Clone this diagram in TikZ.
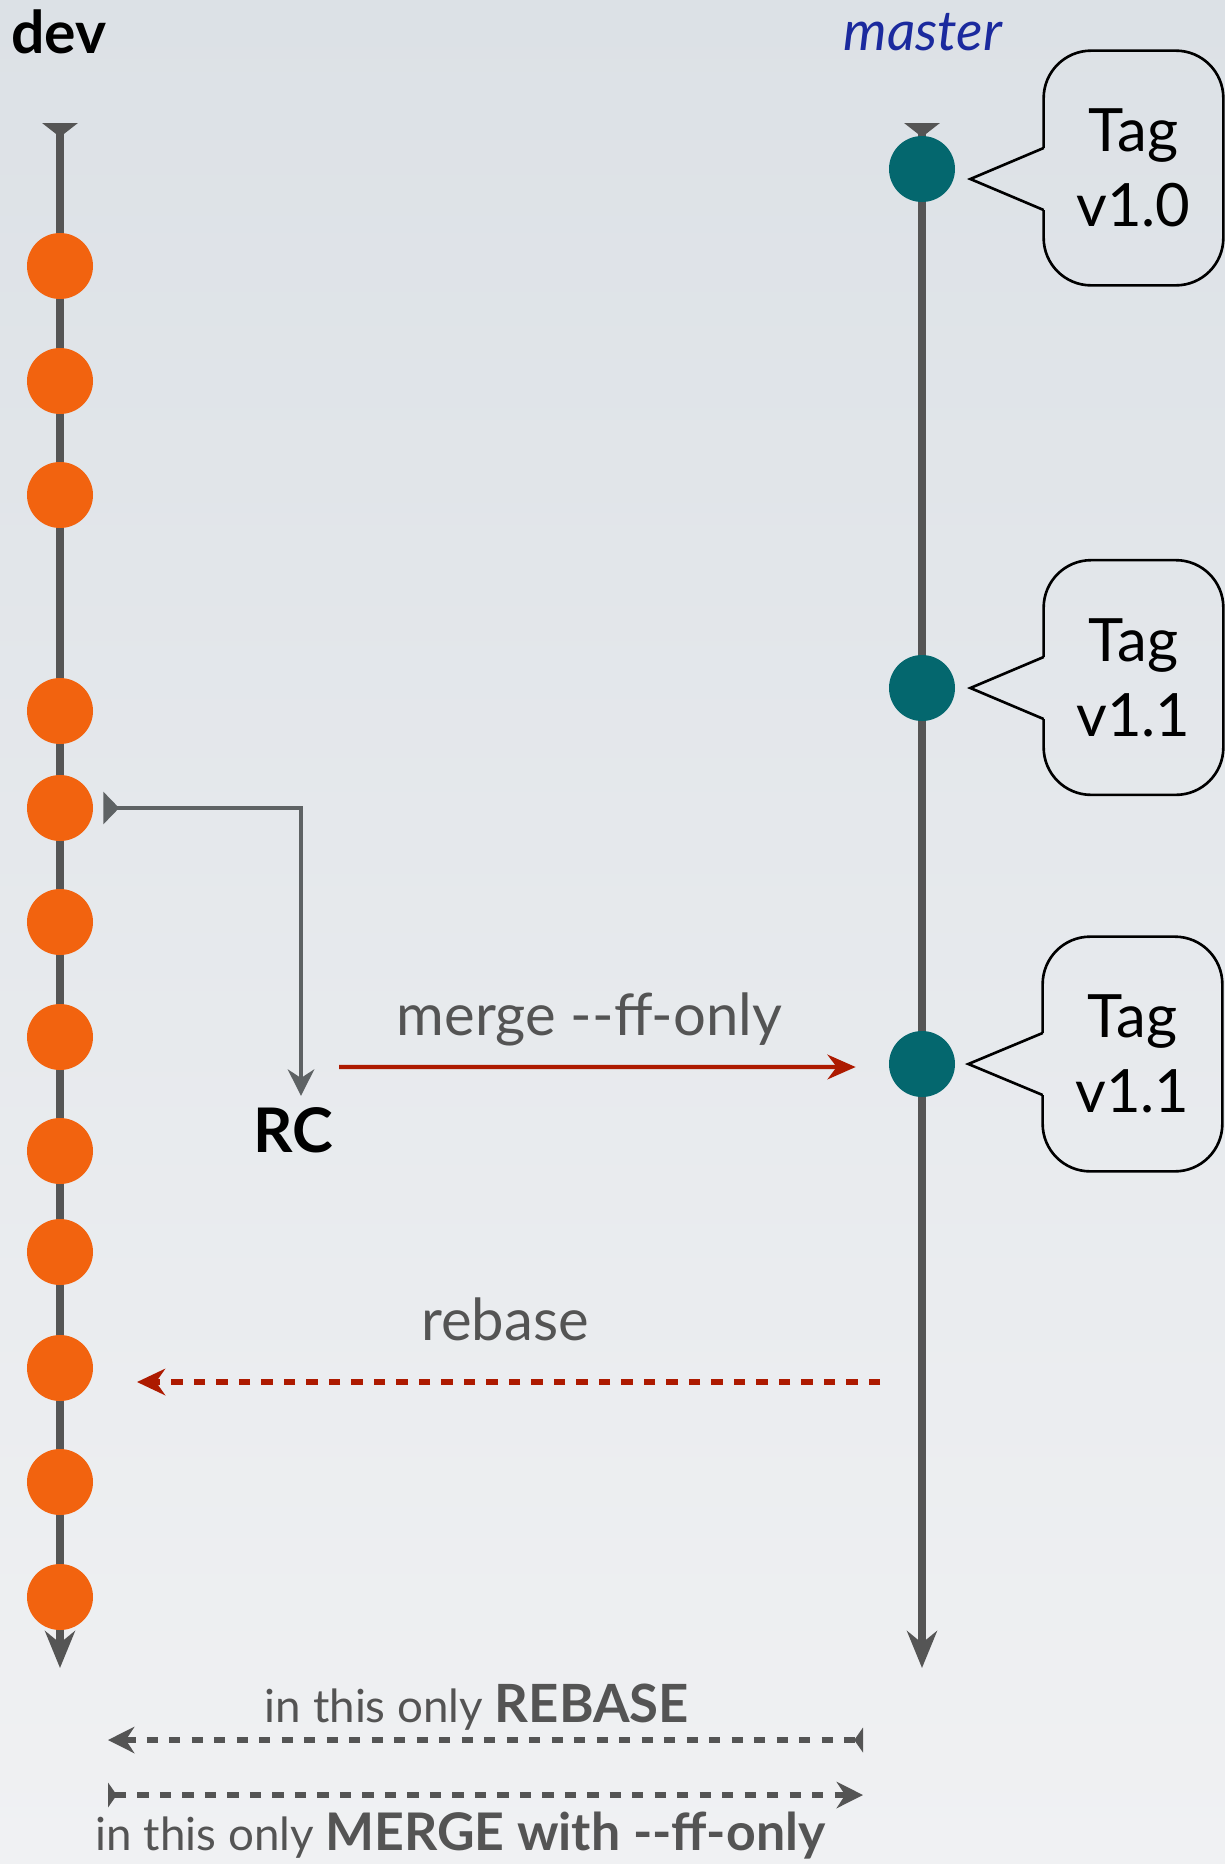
\documentclass[tikz,border=0pt]{standalone}
\usepackage{fontspec}
\setmainfont{Lato}
\usepackage{xcolor}
\usepackage{tikz}
\usetikzlibrary{arrows.meta, positioning, calc}

\definecolor{devorange}{RGB}{242,99,15}
\definecolor{masterteal}{RGB}{4,103,110}
\definecolor{branchgray}{RGB}{85,85,85}
\definecolor{linkgray}{RGB}{94,98,100}
\definecolor{mergered}{RGB}{173,26,0}
\definecolor{labelgray}{RGB}{84,84,84}
\definecolor{masterblue}{RGB}{27,42,158}
\definecolor{bgtop}{RGB}{220,225,230}
\definecolor{bgbottom}{RGB}{240,241,243}

\tikzset{
    branch/.style={line width=4.5pt, draw=branchgray, {Triangle[reversed,length=8pt,width=20pt]}-{Stealth[length=21pt,width=17pt]}},
    devcommit/.style={circle, fill=devorange, minimum size=1.32cm, inner sep=0pt},
    mastercommit/.style={circle, fill=masterteal, minimum size=1.32cm, inner sep=0pt},
    tagbox/.style={minimum width=3.58cm, minimum height=4.68cm, inner sep=0pt, align=center, font=\fontsize{34}{42.5}\selectfont},
    tagline/.style={line width=1.5pt, draw=black},
    biglabel/.style={text=labelgray, font=\fontsize{33}{40}\selectfont},
    onlylabel/.style={text=labelgray, font=\fontsize{26}{31}\selectfont},
    onlyarrow/.style={line width=3.3pt, draw=labelgray, dash pattern=on 6.4pt off 6.4pt}
}

\begin{document}
\begin{tikzpicture}[scale=1]

        % background
        \shade[top color=bgtop, bottom color=bgbottom] (0,0) rectangle (24.5,-37.28);
        \useasboundingbox (0,0) rectangle (24.5,-37.28);

        % branch names
        \node[anchor=base west, font=\fontsize{33.5}{40}\selectfont\bfseries] (devname) at (0.1,-1.06) {dev};
        \node[anchor=base, text=masterblue, font=\fontsize{31.5}{36}\selectfont\itshape] (mastername) at (18.46,-1.0) {master};

        % branch lines
        \coordinate (devtop) at (1.2,-2.46);
        \coordinate (devend) at (1.2,-33.36);
        \coordinate (mastertop) at (18.44,-2.46);
        \coordinate (masterend) at (18.44,-33.36);
        \draw[branch] (devtop) -- (devend);
        \draw[branch] (mastertop) -- (masterend);

        % dev commits
        \node[devcommit] (d1) at (1.2,-5.32) {};
        \node[devcommit] (d2) at (1.2,-7.62) {};
        \node[devcommit] (d3) at (1.2,-9.90) {};
        \node[devcommit] (d4) at (1.2,-14.22) {};
        \node[devcommit] (d5) at (1.2,-16.16) {};
        \node[devcommit] (d6) at (1.2,-18.44) {};
        \node[devcommit] (d7) at (1.2,-20.74) {};
        \node[devcommit] (d8) at (1.2,-23.02) {};
        \node[devcommit] (d9) at (1.2,-25.04) {};
        \node[devcommit] (d10) at (1.2,-27.36) {};
        \node[devcommit] (d11) at (1.2,-29.64) {};
        \node[devcommit] (d12) at (1.2,-31.94) {};

        % master commits
        \node[mastercommit] (m1) at (18.44,-3.38) {};
        \node[mastercommit] (m2) at (18.44,-13.76) {};
        \node[mastercommit] (m3) at (18.44,-21.28) {};

        % tags
        \node[tagbox] (tag1) at (22.67,-3.36) {Tag\\v1.0};
        \node[tagbox] (tag2) at (22.67,-13.55) {Tag\\v1.1};
        \node[tagbox] (tag3) at (22.65,-21.08) {Tag\\v1.1};
        \coordinate (tip1) at ($(m1.east)+(0.3,-0.2)$);
        \coordinate (tip2) at ($(m2.east)+(0.3,0)$);
        \coordinate (tip3) at ($(m3.east)+(0.26,0)$);
        \path (tag1.west |- tip1) coordinate (base1);
        \path (tag2.west |- tip2) coordinate (base2);
        \path (tag3.west |- tip3) coordinate (base3);
        \draw[tagline, rounded corners=0.95cm] ([yshift=0.62cm]base1) -- (tag1.north west) -- (tag1.north east) -- (tag1.south east) -- (tag1.south west) -- ([yshift=-0.62cm]base1);
        \draw[tagline] ([yshift=0.62cm]base1) -- (tip1) -- ([yshift=-0.62cm]base1);
        \draw[tagline, rounded corners=0.95cm] ([yshift=0.62cm]base2) -- (tag2.north west) -- (tag2.north east) -- (tag2.south east) -- (tag2.south west) -- ([yshift=-0.62cm]base2);
        \draw[tagline] ([yshift=0.62cm]base2) -- (tip2) -- ([yshift=-0.62cm]base2);
        \draw[tagline, rounded corners=0.95cm] ([yshift=0.62cm]base3) -- (tag3.north west) -- (tag3.north east) -- (tag3.south east) -- (tag3.south west) -- ([yshift=-0.62cm]base3);
        \draw[tagline] ([yshift=0.62cm]base3) -- (tip3) -- ([yshift=-0.62cm]base3);

        % release candidate
        \node[anchor=base, font=\fontsize{35}{42}\selectfont\bfseries] (rc) at (5.86,-23.04) {RC};
        \coordinate (rcfrom) at ($(d5.east)+(0.2,0)$);
        \draw[line width=2.6pt, draw=linkgray, {Triangle[reversed,length=9pt,width=18pt]}-{Stealth[length=15pt,width=15pt]}] (rcfrom) -| ([xshift=0.16cm,yshift=0.1cm]rc.north);

        % merge into master
        \coordinate (mergefrom) at (6.78,-21.34);
        \draw[line width=2.3pt, draw=mergered, -{Stealth[length=16pt,width=14pt]}] (mergefrom) -- ($(m3.west)+(-0.66,-0.06)$);
        \node[biglabel, anchor=base] (mergelabel) at (11.79,-20.7) {merge -\kern0pt-ff-only};

        % rebase onto dev
        \coordinate (rebasefrom) at (17.6,-27.64);
        \coordinate (rebaseto) at (2.74,-27.64);
        \draw[line width=3.3pt, draw=mergered, dash pattern=on 6.4pt off 6.4pt, -{Stealth[length=16pt,width=15pt]}] (rebasefrom) -- (rebaseto);
        \node[biglabel, anchor=base] (rebaselabel) at (10.1,-26.8) {rebase};

        % which way is allowed
        \coordinate (onlyleft1) at (2.16,-34.8);
        \coordinate (onlyright1) at (17.26,-34.8);
        \coordinate (onlyleft2) at (2.16,-35.9);
        \coordinate (onlyright2) at (17.26,-35.9);
        \draw[onlyarrow, {Stealth[length=15pt,width=15pt]}-{Triangle[reversed,length=5pt,width=14pt]}] (onlyleft1) -- (onlyright1);
        \draw[onlyarrow, {Triangle[reversed,length=5pt,width=14pt]}-{Stealth[length=15pt,width=15pt]}] (onlyleft2) -- (onlyright2);
        \node[onlylabel, anchor=base] (rebaseonly) at (9.54,-34.44) {in this only {\fontsize{30}{36}\selectfont\bfseries REBASE}};
        \node[onlylabel, anchor=base] (mergeonly) at (9.21,-37.0) {in this only {\fontsize{29.5}{36}\selectfont\bfseries MERGE with -\kern0pt-ff-only}};

    \end{tikzpicture}
\end{document}
